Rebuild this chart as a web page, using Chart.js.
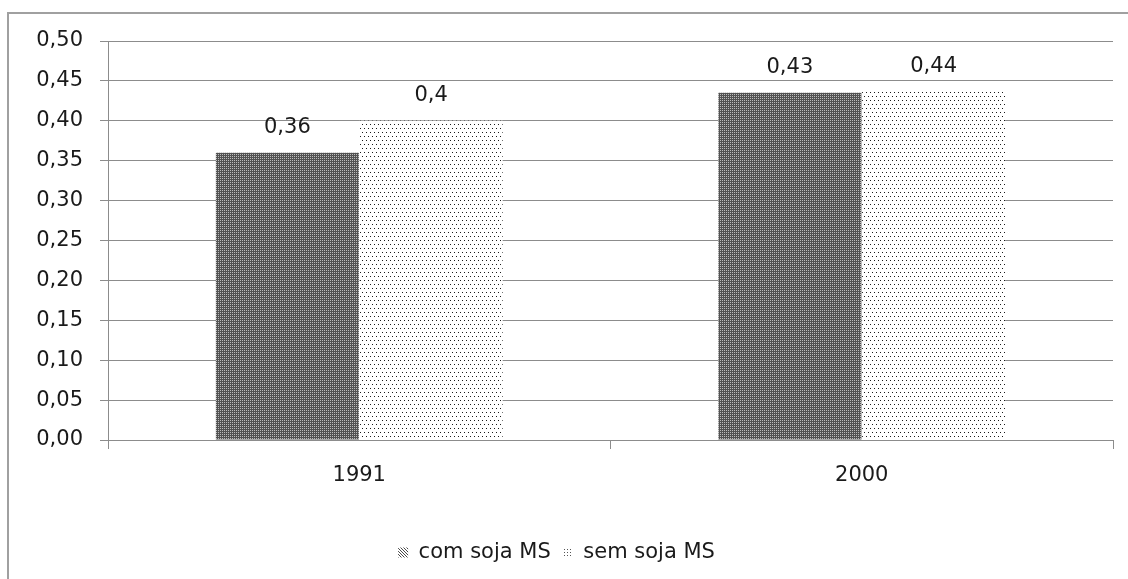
<!DOCTYPE html>
<html>
<head>
<meta charset="utf-8">
<script src="https://cdn.jsdelivr.net/npm/chart.js@4.4.1/dist/chart.umd.min.js"></script>
<style>
  html, body { margin: 0; padding: 0; background: #ffffff; overflow: hidden; }
  #wrap { position: relative; width: 1128px; height: 579px; overflow: hidden; }
  canvas { position: absolute; left: 0; top: 0; }
</style>
</head>
<body>
<div id="wrap">
  <canvas id="c" width="1128" height="579"></canvas>
</div>
<script>
const categories = ['1991', '2000'];
const seriesNames = ['com soja MS', 'sem soja MS'];
const comSoja = [0.36, 0.435];
const semSoja = [0.40, 0.437];
const comLabels = ['0,36', '0,43'];
const semLabels = ['0,4', '0,44'];
const yMin = 0, yMax = 0.5, yStep = 0.05;

const canvas = document.getElementById('c');
const ctx = canvas.getContext('2d');

function makePattern(w, h, draw) {
  const c = document.createElement('canvas');
  c.width = w; c.height = h;
  const g = c.getContext('2d');
  draw(g);
  return ctx.createPattern(c, 'repeat');
}
const darkPattern = makePattern(2, 2, g => {
  g.fillStyle = '#525252'; g.fillRect(0, 0, 2, 2);
  g.fillStyle = '#bdbdbd'; g.fillRect(0, 0, 1, 1);
});
const dotPattern = makePattern(4, 8, g => {
  g.fillStyle = '#ffffff'; g.fillRect(0, 0, 4, 8);
  g.fillStyle = '#1a1a1a'; g.fillRect(0, 0, 1, 1); g.fillRect(2, 4, 1, 1);
});
const diagPattern = makePattern(3, 3, g => {
  g.fillStyle = '#ffffff'; g.fillRect(0, 0, 3, 3);
  g.fillStyle = '#4a4a4a'; g.fillRect(0, 0, 1, 1); g.fillRect(1, 1, 1, 1); g.fillRect(2, 2, 1, 1);
});
const legendDots = makePattern(3, 3, g => {
  g.fillStyle = '#ffffff'; g.fillRect(0, 0, 3, 3);
  g.fillStyle = '#555555'; g.fillRect(0, 0, 1, 1);
});
const legendFills = [diagPattern, legendDots];
const valueLabels = [comLabels, semLabels];

const fontFamily = '"DejaVu Sans", sans-serif';
const fontSize = 21;
const textColor = '#1a1a1a';

const framePlugin = {
  id: 'frame',
  beforeDraw(chart) {
    const c = chart.ctx;
    c.save();
    c.strokeStyle = '#a0a0a0';
    c.lineWidth = 2;
    c.beginPath();
    c.moveTo(8, chart.height + 5);
    c.lineTo(8, 13);
    c.lineTo(chart.width + 5, 13);
    c.stroke();
    c.restore();
  }
};

const dataLabelPlugin = {
  id: 'dataLabels',
  afterDatasetsDraw(chart) {
    const c = chart.ctx;
    c.save();
    c.font = fontSize + 'px ' + fontFamily;
    c.fillStyle = textColor;
    c.textAlign = 'center';
    c.textBaseline = 'middle';
    chart.data.datasets.forEach((ds, i) => {
      chart.getDatasetMeta(i).data.forEach((bar, j) => {
        c.fillText(valueLabels[i][j], bar.x, bar.y - 25);
      });
    });
    c.restore();
  }
};

new Chart(ctx, {
  type: 'bar',
  data: {
    labels: categories,
    datasets: [
      { label: seriesNames[0], data: comSoja, backgroundColor: darkPattern, borderWidth: 0,
        categoryPercentage: 0.572, barPercentage: 0.995 },
      { label: seriesNames[1], data: semSoja, backgroundColor: dotPattern, borderWidth: 0,
        categoryPercentage: 0.572, barPercentage: 0.995 }
    ]
  },
  options: {
    responsive: false,
    animation: false,
    devicePixelRatio: 1,
    layout: { padding: { left: 0, top: 41, right: 15, bottom: 6 } },
    plugins: {
      tooltip: { enabled: false },
      legend: {
        position: 'bottom',
        labels: {
          boxWidth: 10, boxHeight: 10, padding: 12,
          color: textColor,
          font: { size: fontSize, family: fontFamily },
          generateLabels(chart) {
            return chart.data.datasets.map((ds, i) => ({
              text: ds.label, fillStyle: legendFills[i], strokeStyle: 'rgba(0,0,0,0)',
              lineWidth: 0, hidden: false, datasetIndex: i, fontColor: textColor
            }));
          }
        }
      }
    },
    scales: {
      x: {
        grid: { offset: true, drawOnChartArea: false, drawTicks: true, tickLength: 9, color: '#8c8c8c' },
        border: { color: '#8c8c8c' },
        ticks: { color: textColor, font: { size: fontSize, family: fontFamily }, padding: 14 },
        afterFit(s) { s.height = 90; }
      },
      y: {
        min: yMin, max: yMax,
        grid: { color: '#8c8c8c', tickLength: 8 },
        border: { color: '#8c8c8c' },
        ticks: {
          stepSize: yStep, padding: 17, color: textColor,
          font: { size: fontSize, family: fontFamily },
          callback: v => Number(v).toFixed(2).replace('.', ',')
        },
        afterFit(s) { s.width = 108; }
      }
    }
  },
  plugins: [framePlugin, dataLabelPlugin]
});
</script>
</body>
</html>
